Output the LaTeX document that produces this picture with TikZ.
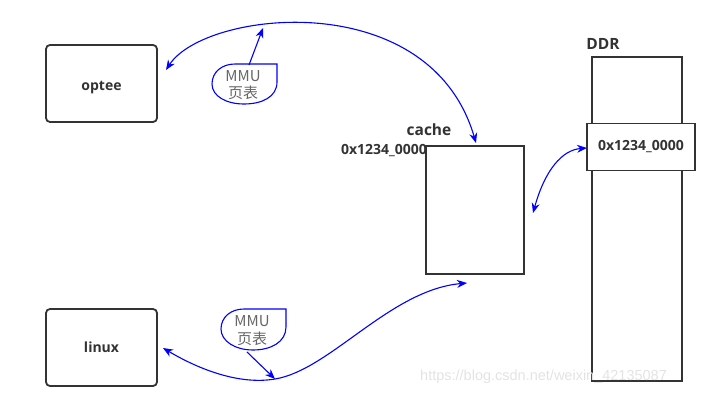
\documentclass[tikz,border=0pt]{standalone}
\usepackage{fontspec}
\setmainfont{Open Sans}
\newfontfamily\cjk{Noto Sans CJK SC}
\newfontfamily\wmfont{Liberation Sans}
\usetikzlibrary{arrows.meta}
\begin{document}
\begin{tikzpicture}[x=1pt,y=-1pt,
  box/.style={draw=black!80,line width=1.8pt,inner sep=0pt},
  rbox/.style={box,rounded corners=4pt,minimum width=111pt,minimum height=77pt},
  lbl/.style={font=\bfseries\fontsize{14}{16}\selectfont,text=black!80,inner sep=0pt},
  biglbl/.style={font=\bfseries\fontsize{15.5}{18}\selectfont,text=black!80,inner sep=0pt},
  mmutext/.style={font=\cjk\fontsize{15}{17}\selectfont,text=black!60,inner sep=0pt},
  callout/.style={draw=blue,line width=1.1pt},
  conn/.style={draw=blue,line width=1.1pt,{Stealth[length=10pt,width=8pt]}-{Stealth[length=10pt,width=8pt]}},
  single/.style={draw=blue,line width=1.1pt,-{Stealth[length=10pt,width=8pt]}}
]
\useasboundingbox (0,0) rectangle (706,401);

% boxes
\node[rbox] (optee) at (101.5,83.5) {};
\node[lbl,anchor=base] (opteelbl) at (101.5,90.5) {optee};
\node[rbox] (linux) at (101.5,347.5) {};
\node[lbl,anchor=base] (linuxlbl) at (101.5,352.7) {linux};

\node[box,minimum width=98pt,minimum height=128pt] (cache) at (475,210) {};
\node[biglbl] (cachelbl) at (429,130) {cache};
\node[lbl,anchor=east] (cacheaddr) at (427,151) {0x1234\_0000};

\node[box,minimum width=90pt,minimum height=324pt] (ddr) at (637,219) {};
\node[biglbl] (ddrlbl) at (603,44) {DDR};
\node[box,fill=white,minimum width=108pt,minimum height=47pt] (cell) at (641,147) {};
\node[lbl] at (cell.center) {0x1234\_0000};

% MMU callouts
\draw[callout] (235,64) -- (277,64) -- (277,82) .. controls (277,97) and (262,104) .. (244,104) .. controls (226,104) and (212,96) .. (212,84) .. controls (212,72) and (222,64) .. (235,64) -- cycle;
\node[mmutext] (mmuA1) at (243,76) {MMU};
\node[mmutext] (mmuA2) at (243,93) {页表};

\begin{scope}[shift={(9,245)}]
\draw[callout] (235,64) -- (277,64) -- (277,82) .. controls (277,97) and (262,105) .. (244,105) .. controls (226,105) and (212,96) .. (212,84) .. controls (212,72) and (222,64) .. (235,64) -- cycle;
\end{scope}
\node[mmutext] (mmuB1) at (252,321) {MMU};
\node[mmutext] (mmuB2) at (252,339) {页表};

% connector end points
\coordinate (a1) at (166,70);
\coordinate (a2) at (476,143);
\coordinate (b1) at (163,348);
\coordinate (bm) at (275,379);
\coordinate (b2) at (467,283);
\coordinate (c1) at (533,213);
\coordinate (c2) at (587,148);
\coordinate (s1) at (249,65);
\coordinate (s2) at (263,28);
\coordinate (t1) at (247,352);

% connectors
\draw[conn] (a1) .. controls (205,10) and (430,-15) .. (a2);
\draw[conn] (b1) .. controls (200,370) and (240,385) .. (bm) .. controls (330,370) and (390,290) .. (b2);
\draw[conn] (c1) .. controls (545,170) and (562,150) .. (c2);
\draw[single] (s1) -- (s2);
\draw[single] (t1) -- (bm);

% watermark
\node[font=\wmfont\fontsize{14.5}{16}\selectfont,text=black!11,anchor=west,inner sep=0pt] (wm) at (420,377) {https://blog.csdn.net/weixin\_42135087};
\end{tikzpicture}
\end{document}
